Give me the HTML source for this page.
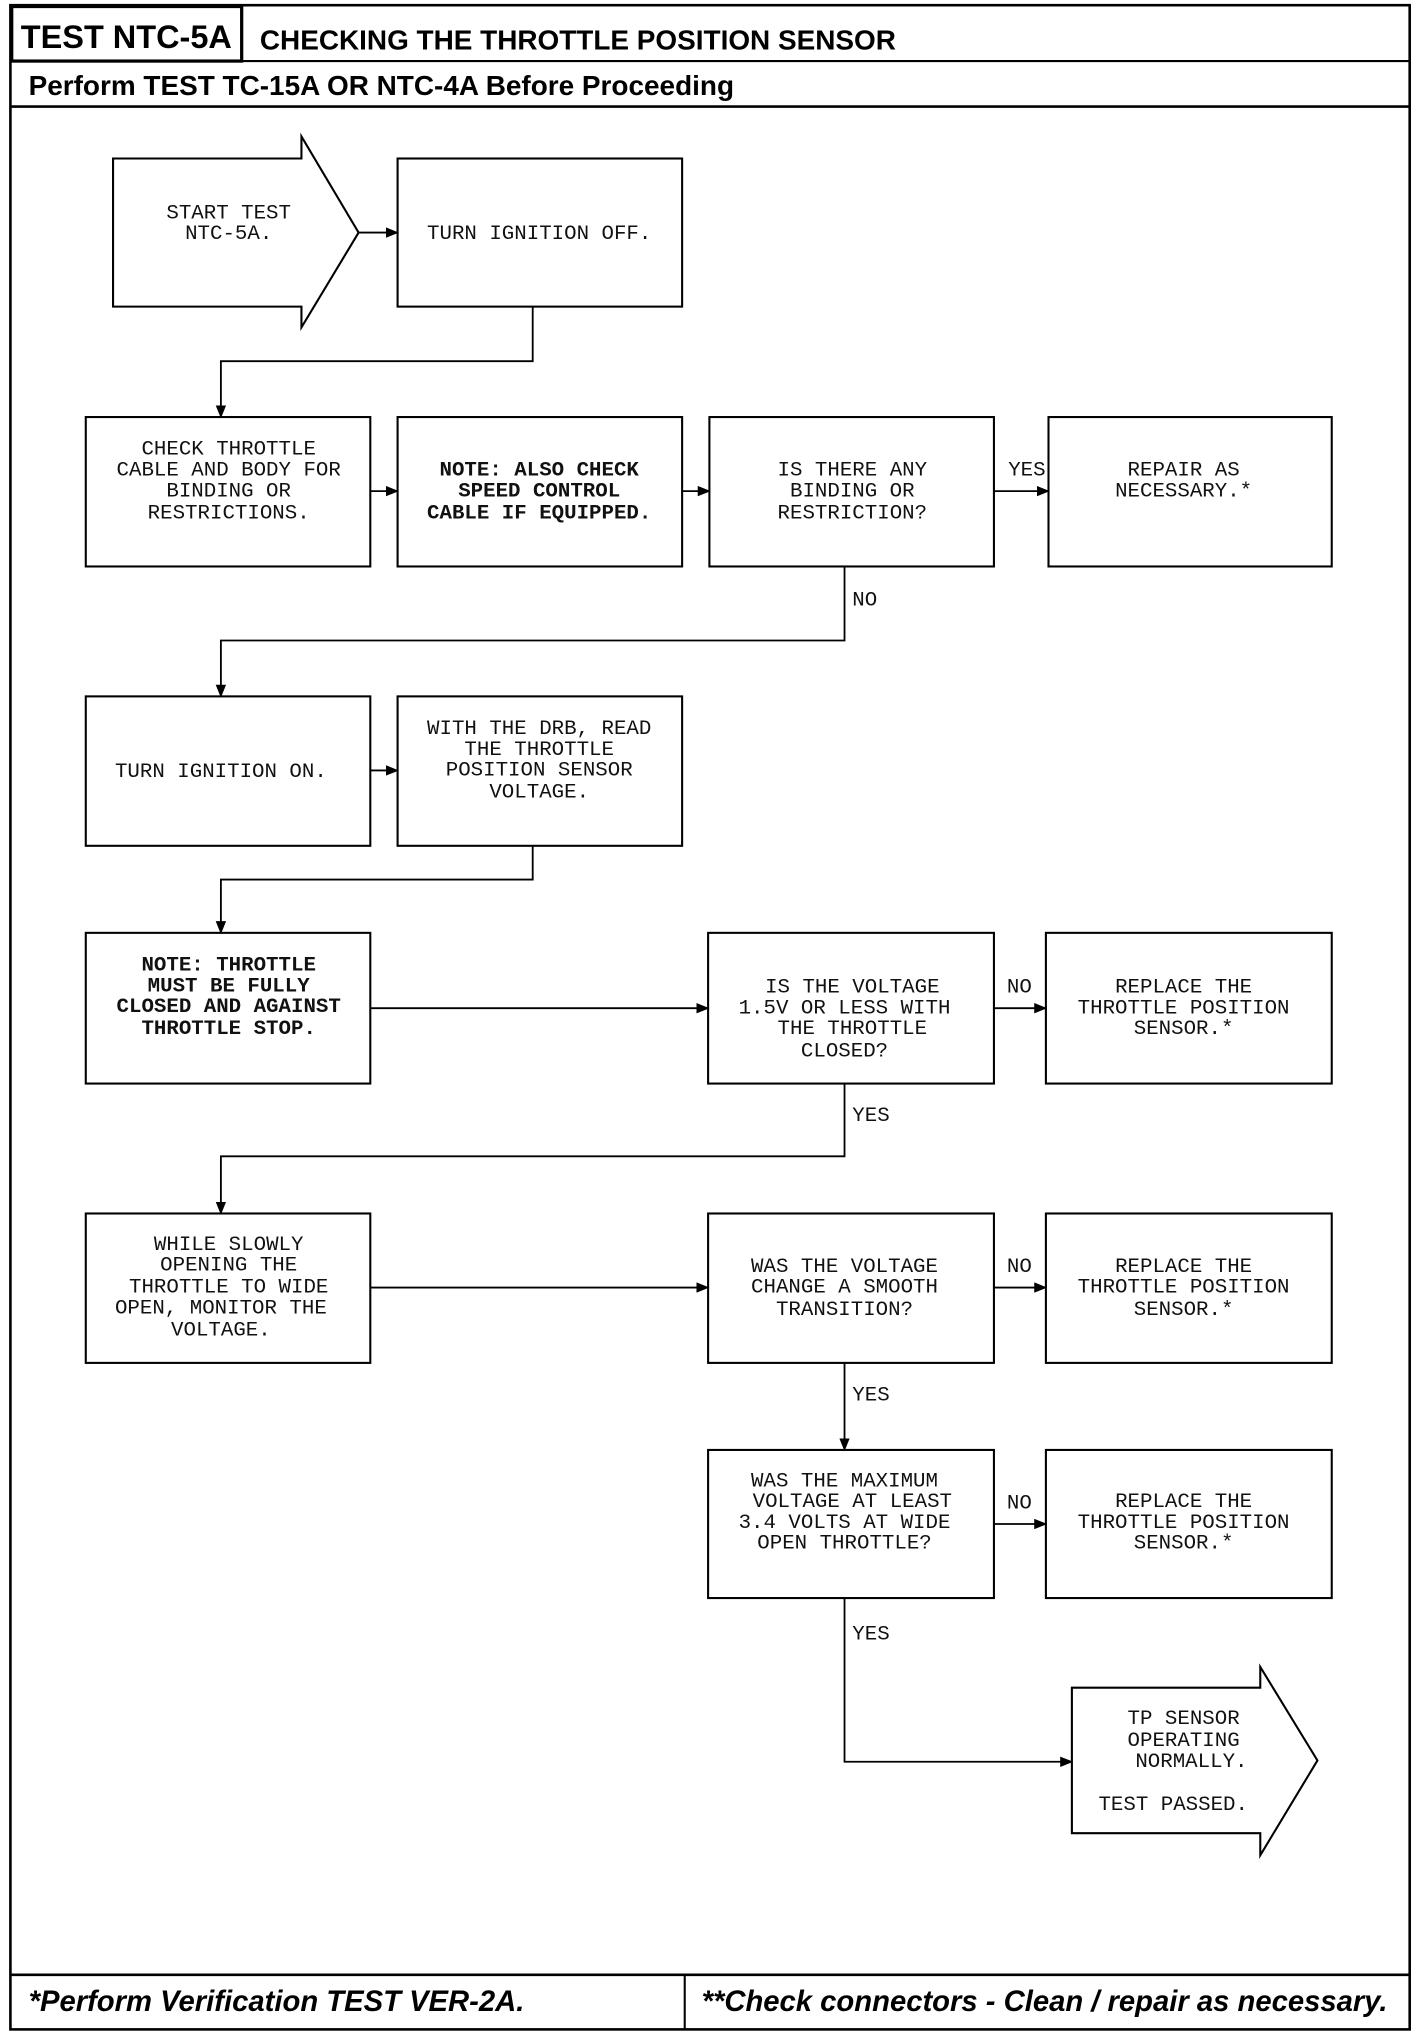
<!DOCTYPE html>
<html><head><meta charset="utf-8"><style>
html,body{margin:0;padding:0;background:#fff}
svg{display:block}
.t{font-family:"Liberation Mono",monospace;font-size:16px;fill:#111;text-anchor:middle}
.b{font-weight:bold}
.h{font-family:"Liberation Sans",sans-serif;font-weight:bold;fill:#000}
.l{font-family:"Liberation Mono",monospace;font-size:16px;fill:#111}
</style></head><body>
<svg width="1424" height="2032" viewBox="0 0 1096 1564" xmlns="http://www.w3.org/2000/svg">
<defs><marker id="a" markerWidth="10" markerHeight="8" refX="9" refY="4" orient="auto" markerUnits="userSpaceOnUse"><path d="M0,0 L10,4 L0,8 Z" fill="#000"/></marker></defs>
<g fill="none" stroke="#000" stroke-width="1.6">
<rect x="8" y="4" width="1077" height="1558" stroke-width="2"/>
<line x1="8" y1="47" x2="1085" y2="47"/>
<line x1="8" y1="82" x2="1085" y2="82" stroke-width="2"/>
<rect x="9" y="5" width="177" height="42" stroke-width="2.5"/>
<line x1="8" y1="1520" x2="1085" y2="1520" stroke-width="2"/>
<line x1="527" y1="1520" x2="527" y2="1562"/>
<polygon points="87,122 232,122 232,105 276,179 232,252 232,236 87,236"/>
<rect x="306" y="122" width="219" height="114"/>
<rect x="66" y="321" width="219" height="115"/>
<rect x="306" y="321" width="219" height="115"/>
<rect x="546" y="321" width="219" height="115"/>
<rect x="807" y="321" width="218" height="115"/>
<rect x="66" y="536" width="219" height="115"/>
<rect x="306" y="536" width="219" height="115"/>
<rect x="66" y="718" width="219" height="116"/>
<rect x="545" y="718" width="220" height="116"/>
<rect x="805" y="718" width="220" height="116"/>
<rect x="66" y="934" width="219" height="115"/>
<rect x="545" y="934" width="220" height="115"/>
<rect x="805" y="934" width="220" height="115"/>
<rect x="545" y="1116" width="220" height="114"/>
<rect x="805" y="1116" width="220" height="114"/>
<polygon points="825,1299 970,1299 970,1283 1014,1355 970,1428 970,1411 825,1411"/>
</g>
<g fill="none" stroke="#000" stroke-width="1.4" marker-end="url(#a)">
<line x1="276" y1="179" x2="306" y2="179"/>
<polyline points="410,236 410,278 170,278 170,321"/>
<line x1="285" y1="378" x2="306" y2="378"/>
<line x1="525" y1="378" x2="546" y2="378"/>
<line x1="765" y1="378" x2="807" y2="378"/>
<polyline points="650,436 650,493 170,493 170,536"/>
<line x1="285" y1="593" x2="306" y2="593"/>
<polyline points="410,651 410,677 170,677 170,718"/>
<line x1="285" y1="776" x2="545" y2="776"/>
<line x1="765" y1="776" x2="805" y2="776"/>
<polyline points="650,834 650,890 170,890 170,934"/>
<line x1="285" y1="991" x2="545" y2="991"/>
<line x1="765" y1="991" x2="805" y2="991"/>
<line x1="650" y1="1049" x2="650" y2="1116"/>
<line x1="765" y1="1173" x2="805" y2="1173"/>
<polyline points="650,1230 650,1356 825,1356"/>
</g>
<text class="h" x="16" y="37" font-size="25">TEST NTC-5A</text>
<text class="h" x="200" y="38" font-size="21.5">CHECKING THE THROTTLE POSITION SENSOR</text>
<text class="h" x="22" y="73" font-size="21.5">Perform TEST TC-15A OR NTC-4A Before Proceeding</text>
<text class="h" x="22" y="1548" font-size="22.5" font-style="italic">*Perform Verification TEST VER-2A.</text>
<text class="h" x="540" y="1548" font-size="22.5" font-style="italic">**Check connectors - Clean / repair as necessary.</text>
<g class="t">
<text x="176" y="168">START TEST</text><text x="176" y="184">NTC-5A.</text>
<text x="415" y="184">TURN IGNITION OFF.</text>
<text x="176" y="350">CHECK THROTTLE</text><text x="176" y="366">CABLE AND BODY FOR</text><text x="176" y="382">BINDING OR</text><text x="176" y="399">RESTRICTIONS.</text>
<text class="b" x="415" y="366">NOTE: ALSO CHECK</text><text class="b" x="415" y="382">SPEED CONTROL</text><text class="b" x="415" y="399">CABLE IF EQUIPPED.</text>
<text x="656" y="366">IS THERE ANY</text><text x="656" y="382">BINDING OR</text><text x="656" y="399">RESTRICTION?</text>
<text x="911" y="366">REPAIR AS</text><text x="911" y="382">NECESSARY.*</text>
<text x="170" y="598">TURN IGNITION ON.</text>
<text x="415" y="565">WITH THE DRB, READ</text><text x="415" y="581">THE THROTTLE</text><text x="415" y="597">POSITION SENSOR</text><text x="415" y="614">VOLTAGE.</text>
<text class="b" x="176" y="747">NOTE: THROTTLE</text><text class="b" x="176" y="763">MUST BE FULLY</text><text class="b" x="176" y="779">CLOSED AND AGAINST</text><text class="b" x="176" y="796">THROTTLE STOP.</text>
<text x="656" y="764">IS THE VOLTAGE</text><text x="650" y="780">1.5V OR LESS WITH</text><text x="656" y="796">THE THROTTLE</text><text x="650" y="813">CLOSED?</text>
<text x="911" y="764">REPLACE THE</text><text x="911" y="780">THROTTLE POSITION</text><text x="911" y="796">SENSOR.*</text>
<text x="176" y="962">WHILE SLOWLY</text><text x="176" y="978">OPENING THE</text><text x="176" y="995">THROTTLE TO WIDE</text><text x="170" y="1011">OPEN, MONITOR THE</text><text x="170" y="1028">VOLTAGE.</text>
<text x="650" y="979">WAS THE VOLTAGE</text><text x="650" y="995">CHANGE A SMOOTH</text><text x="650" y="1012">TRANSITION?</text>
<text x="911" y="979">REPLACE THE</text><text x="911" y="995">THROTTLE POSITION</text><text x="911" y="1012">SENSOR.*</text>
<text x="650" y="1144">WAS THE MAXIMUM</text><text x="656" y="1160">VOLTAGE AT LEAST</text><text x="650" y="1176">3.4 VOLTS AT WIDE</text><text x="650" y="1192">OPEN THROTTLE?</text>
<text x="911" y="1160">REPLACE THE</text><text x="911" y="1176">THROTTLE POSITION</text><text x="911" y="1192">SENSOR.*</text>
<text x="911" y="1327">TP SENSOR</text><text x="911" y="1344">OPERATING</text><text x="917" y="1360">NORMALLY.</text><text x="903" y="1393">TEST PASSED.</text>
</g>
<g class="l">
<text x="776" y="366">YES</text>
<text x="656" y="466">NO</text>
<text x="775" y="764">NO</text>
<text x="656" y="863">YES</text>
<text x="775" y="979">NO</text>
<text x="656" y="1078">YES</text>
<text x="775" y="1161">NO</text>
<text x="656" y="1262">YES</text>
</g>
</svg>
</body></html>
